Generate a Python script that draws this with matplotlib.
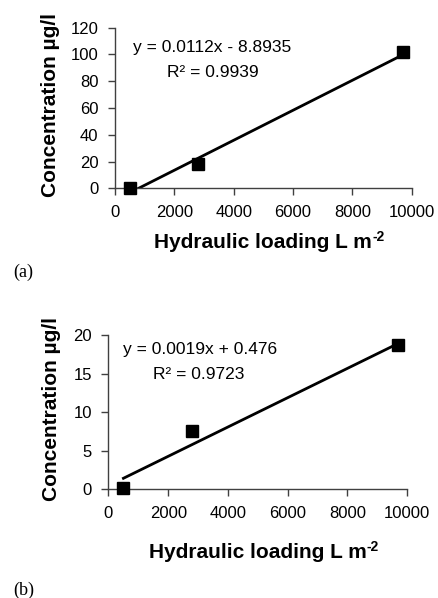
import matplotlib.pyplot as plt

# Hydraulic loading (L m-2) and measured concentrations (ug/l)
loading = [500, 2800, 9700]
conc_a = [0.0, 18.2, 101.6]
conc_b = [0.2, 7.6, 18.7]

# Linear trend lines as reported on each panel: slope, intercept, R2
fit_a = (0.0112, -8.8935, 0.9939)
fit_b = (0.0019, 0.476, 0.9723)

plt.rcParams["font.family"] = ["Liberation Sans", "DejaVu Sans"]

fig = plt.figure(figsize=(4.38, 5.98), dpi=100)

SPINE = "#404040"


def panel(rect, y, fit, ymax, ystep, eq_text, eq_pos, r2_pos, xlab_y, ylab_x):
    ax = fig.add_axes(rect)
    slope, icpt, r2 = fit
    xs = [min(loading), max(loading)]
    ax.plot(xs, [slope * x + icpt for x in xs], color="black", lw=2, zorder=2)
    ax.plot(loading, y, ls="none", marker="s", ms=8, color="black", zorder=3, clip_on=False)

    ax.set_xlim(0, 10000)
    ax.set_ylim(0, ymax)
    ax.set_xticks(range(0, 10001, 2000))
    ax.set_yticks(range(0, ymax + 1, ystep))
    for s in ["top", "right"]:
        ax.spines[s].set_visible(False)
    for s in ["left", "bottom"]:
        ax.spines[s].set_color(SPINE)
        ax.spines[s].set_linewidth(1)
    ax.tick_params(axis="both", direction="out", length=5, width=1, color=SPINE, labelsize=12)
    ax.tick_params(axis="x", pad=7)
    ax.tick_params(axis="y", pad=7)

    ax.set_xlabel("Hydraulic loading L m", fontsize=15, fontweight="bold", va="baseline")
    ax.xaxis.set_label_coords(0.5, xlab_y)
    ax.set_ylabel("Concentration µg/l", fontsize=15, fontweight="bold", va="center")
    ax.yaxis.set_label_coords(ylab_x, 0.52)
    # superscript exponent on the unit
    ax.annotate("-2", xy=(1.0, 0.6), xycoords=ax.xaxis.label, fontsize=10,
                fontweight="bold", ha="left", va="baseline")

    ax.text(*eq_pos, eq_text, transform=ax.transAxes, fontsize=12.5, va="center", ha="left")
    ax.text(*r2_pos, f"R² = {r2}", transform=ax.transAxes, fontsize=12.5, va="center", ha="left")
    return ax


panel([0.2626, 0.6851, 0.6774, 0.2686], conc_a, fit_a, 120, 20,
      "y = 0.0112x - 8.8935", (0.061, 0.874), (0.175, 0.724), -0.372, -0.219)
panel([0.2477, 0.1818, 0.682, 0.258], conc_b, fit_b, 20, 5,
      "y = 0.0019x + 0.476", (0.048, 0.903), (0.149, 0.742), -0.445, -0.19)

fig.text(13 / 438, 1 - 272 / 598, "(a)", family="Liberation Serif", fontsize=13, va="center")
fig.text(13 / 438, 1 - 590 / 598, "(b)", family="Liberation Serif", fontsize=13, va="center")

fig.savefig("out.png", dpi=100)
